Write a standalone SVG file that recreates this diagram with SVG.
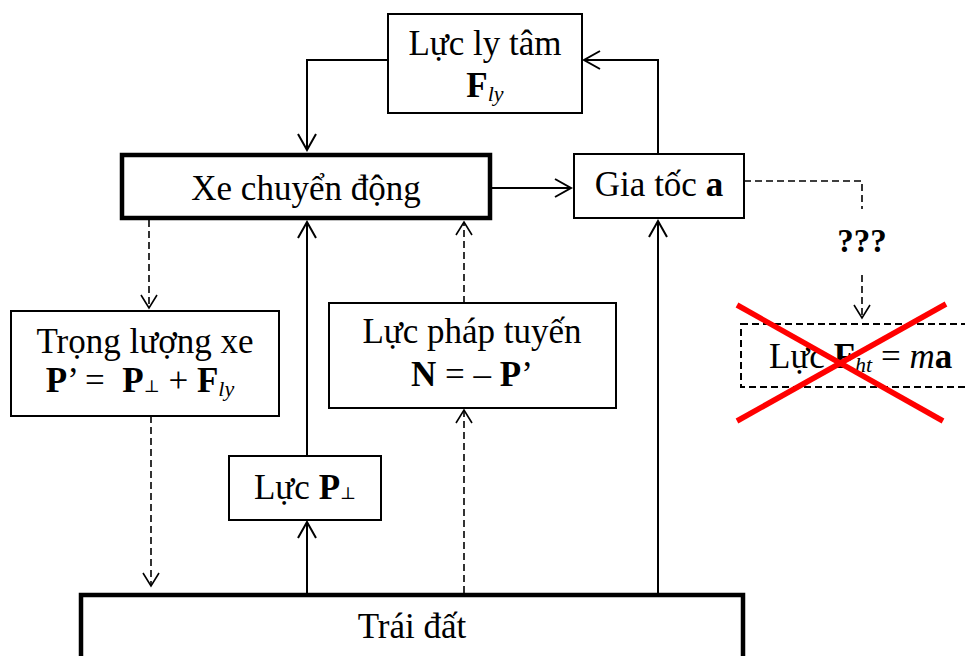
<svg xmlns="http://www.w3.org/2000/svg" width="965" height="656" viewBox="0 0 965 656">
  <style>
    text { font-family: "Liberation Serif", "Times New Roman", serif; font-size: 35px; fill: #000; }
    .b { font-weight: bold; }
    .i { font-style: italic; }
    .sub { font-style: italic; font-size: 22px; }
    .perp { font-family: "DejaVu Serif", "DejaVu Sans", serif; font-size: 17px; }
    .box { fill: #fff; stroke: #000; stroke-width: 2; }
    .thick { fill: #fff; stroke: #000; stroke-width: 4.5; }
    .dbox { fill: none; stroke: #000; stroke-width: 2; stroke-dasharray: 7 4; }
    .ln { fill: none; stroke: #000; stroke-width: 2; }
    .dash { fill: none; stroke: #000; stroke-width: 1.6; stroke-dasharray: 7 4; }
    .cross { stroke: #ff0000; stroke-width: 5.5; stroke-linecap: butt; }
  </style>
  <defs>
    <marker id="open" markerUnits="userSpaceOnUse" markerWidth="20" markerHeight="22" viewBox="-18 -11 20 22" refX="0" refY="0" orient="auto">
      <path d="M -16 -9 L 0 0 L -16 9" fill="none" stroke="#000" stroke-width="2"/>
    </marker>
    <marker id="openS" markerUnits="userSpaceOnUse" markerWidth="18" markerHeight="20" viewBox="-16 -10 18 20" refX="0" refY="0" orient="auto">
      <path d="M -13 -8 L 0 0 L -13 8" fill="none" stroke="#000" stroke-width="1.6"/>
    </marker>
  </defs>

  <!-- connectors -->
  <g id="connectors">
    <polyline class="ln" points="387,60 307,60 307,150" marker-end="url(#open)"/>
    <polyline class="ln" points="658,153 658,60 584,60" marker-end="url(#open)"/>
    <line class="ln" x1="492" y1="188" x2="571" y2="188" marker-end="url(#open)"/>
    <line class="ln" x1="307" y1="456" x2="307" y2="222" marker-end="url(#open)"/>
    <line class="ln" x1="307" y1="593" x2="307" y2="522" marker-end="url(#open)"/>
    <line class="ln" x1="658" y1="593" x2="658" y2="221" marker-end="url(#open)"/>
    <line class="dash" x1="149" y1="220" x2="149" y2="308" marker-end="url(#openS)"/>
    <line class="dash" x1="151" y1="416" x2="151" y2="586" marker-end="url(#openS)"/>
    <line class="dash" x1="464" y1="303" x2="464" y2="222" marker-end="url(#openS)"/>
    <line class="dash" x1="464" y1="593" x2="464" y2="410" marker-end="url(#openS)"/>
    <polyline class="dash" points="744,181 862,181 862,209"/>
    <line class="dash" x1="862" y1="275" x2="862" y2="318" marker-end="url(#openS)"/>
    <text x="862" y="252" text-anchor="middle" class="b" style="font-size:33px">???</text>
  </g>

  <g id="n-lucly">
    <rect class="box" x="388" y="14" width="194" height="99"/>
    <text x="485" y="55" text-anchor="middle">Lực ly tâm</text>
    <text x="485" y="97" text-anchor="middle"><tspan class="b">F</tspan><tspan class="sub" dy="4">ly</tspan></text>
  </g>

  <g id="n-xe">
    <rect class="thick" x="122" y="155" width="368" height="63"/>
    <text x="306" y="200" text-anchor="middle">Xe chuyển động</text>
  </g>

  <g id="n-giatoc">
    <rect class="box" x="574" y="154" width="170" height="64"/>
    <text x="659" y="196" text-anchor="middle">Gia tốc <tspan class="b">a</tspan></text>
  </g>

  <g id="n-trongluong">
    <rect class="box" x="11" y="311" width="268" height="105"/>
    <text x="145" y="353" text-anchor="middle">Trọng lượng xe</text>
    <text x="140" y="392" text-anchor="middle" xml:space="preserve"><tspan class="b">P</tspan>’ =  <tspan class="b">P</tspan><tspan class="perp">⊥</tspan> + <tspan class="b">F</tspan><tspan class="sub" dy="4">ly</tspan></text>
  </g>

  <g id="n-phaptuyen">
    <rect class="box" x="329" y="303" width="287" height="105"/>
    <text x="472" y="343" text-anchor="middle">Lực pháp tuyến</text>
    <text x="472" y="386" text-anchor="middle"><tspan class="b">N</tspan> = – <tspan class="b">P</tspan>’</text>
  </g>

  <g id="n-lucp">
    <rect class="box" x="229" y="456" width="152" height="64"/>
    <text x="305" y="499" text-anchor="middle">Lực <tspan class="b">P</tspan><tspan class="perp">⊥</tspan></text>
  </g>

  <g id="n-traidat">
    <rect class="thick" x="81" y="595" width="662" height="80"/>
    <text x="412" y="638" text-anchor="middle">Trái đất</text>
  </g>

  <g id="n-lucht">
    <rect class="dbox" x="741" y="324" width="240" height="63"/>
    <text x="769" y="368">Lực <tspan class="b">F</tspan><tspan class="sub" dy="4">ht</tspan><tspan dy="-4"> = </tspan><tspan class="i">m</tspan><tspan class="b">a</tspan></text>
    <line class="cross" x1="737" y1="305" x2="943" y2="421"/>
    <line class="cross" x1="737" y1="421" x2="946" y2="304"/>
  </g>
</svg>
